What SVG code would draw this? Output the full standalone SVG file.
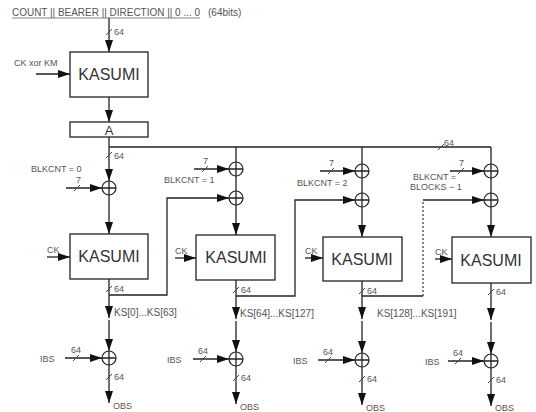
<svg xmlns="http://www.w3.org/2000/svg" width="536" height="412" viewBox="0 0 536 412">
<defs>
<marker id="ah" viewBox="0 0 12 8" refX="12" refY="4" markerWidth="12" markerHeight="8" orient="auto" markerUnits="userSpaceOnUse"><path d="M0,0 L12,4 L0,8 z" fill="#111"/></marker>
<style>
.ln{stroke:#222;stroke-width:1.3;fill:none}
.ar{stroke:#222;stroke-width:1.3;fill:none;marker-end:url(#ah)}
.dash{stroke:#333;stroke-width:1.2;fill:none;stroke-dasharray:2 2}
.box{fill:#fff;stroke:#222;stroke-width:1.3}
.xor{fill:#fff;stroke:#222;stroke-width:1.2}
.k{font-family:"Liberation Sans",Arial,sans-serif;font-size:16px;fill:#333;text-anchor:middle}
.s{font-family:"Liberation Sans",Arial,sans-serif;font-size:9px;fill:#555}
.ks{font-family:"Liberation Sans",Arial,sans-serif;font-size:10px;fill:#555}
.tk{stroke:#444;stroke-width:1}
</style>
</defs>
<text class="ks" x="12" y="16" textLength="188" lengthAdjust="spacingAndGlyphs">COUNT || BEARER || DIRECTION || 0 ... 0</text>
<text class="ks" x="208" y="16">(64bits)</text>
<line x1="12" y1="18" x2="200" y2="18" stroke="#666" stroke-width="0.8"/>

<g id="connectors">
<line class="ar" x1="109" y1="18" x2="109" y2="52"/>
<line class="ar" x1="36" y1="74" x2="70" y2="74"/>
<line class="ar" x1="109" y1="97" x2="109" y2="122"/>
<line class="ln" x1="109" y1="137" x2="109" y2="147"/>
<line class="ln" x1="109" y1="147" x2="491" y2="147"/>
<line class="ar" x1="109" y1="147" x2="109" y2="181"/>
<line class="ar" x1="66" y1="188" x2="102" y2="188"/>
<line class="ar" x1="109" y1="195" x2="109" y2="234"/>
<line class="ln" x1="236" y1="147" x2="236" y2="162"/>
<line class="ar" x1="194" y1="169" x2="229" y2="169"/>
<line class="ln" x1="236" y1="176" x2="236" y2="191"/>
<line class="ar" x1="236" y1="205" x2="236" y2="235"/>
<line class="ln" x1="362" y1="147" x2="362" y2="164"/>
<line class="ar" x1="320" y1="171" x2="355" y2="171"/>
<line class="ln" x1="362" y1="178" x2="362" y2="193"/>
<line class="ar" x1="362" y1="207" x2="362" y2="237"/>
<line class="ln" x1="491" y1="147" x2="491" y2="164"/>
<line class="ar" x1="450" y1="171" x2="484" y2="171"/>
<line class="ln" x1="491" y1="178" x2="491" y2="193"/>
<line class="ar" x1="491" y1="207" x2="491" y2="237"/>
<line class="ar" x1="47" y1="257" x2="70" y2="257"/>
<line class="ar" x1="175" y1="258" x2="196" y2="258"/>
<line class="ar" x1="305" y1="258" x2="323" y2="258"/>
<line class="ar" x1="435" y1="259" x2="452" y2="259"/>
<polyline class="ar" points="109,295 167,295 167,198 229,198"/>
<polyline class="ar" points="236,296 295,296 295,200 355,200"/>
<line class="ln" x1="362" y1="296" x2="423" y2="296"/>
<line class="dash" x1="423" y1="296" x2="423" y2="200"/>
<line class="ar" x1="423" y1="200" x2="484" y2="200"/>
<line class="ar" x1="109" y1="279" x2="109" y2="318"/>
<line class="ar" x1="109" y1="320" x2="109" y2="351"/>
<line class="ar" x1="236" y1="280" x2="236" y2="319"/>
<line class="ar" x1="236" y1="321" x2="236" y2="352"/>
<line class="ar" x1="362" y1="281" x2="362" y2="319"/>
<line class="ar" x1="362" y1="321" x2="362" y2="353"/>
<line class="ar" x1="491" y1="283" x2="491" y2="320"/>
<line class="ar" x1="491" y1="322" x2="491" y2="354"/>
<line class="ar" x1="65" y1="358" x2="102" y2="358"/>
<line class="ar" x1="193" y1="359" x2="229" y2="359"/>
<line class="ar" x1="318" y1="360" x2="355" y2="360"/>
<line class="ar" x1="448" y1="361" x2="484" y2="361"/>
<line class="ar" x1="109" y1="365" x2="109" y2="403"/>
<line class="ar" x1="236" y1="366" x2="236" y2="404"/>
<line class="ar" x1="362" y1="367" x2="362" y2="405"/>
<line class="ar" x1="491" y1="368" x2="491" y2="406"/>
<g class="tk">
<line x1="106" y1="35" x2="112" y2="29"/>
<line x1="106" y1="158" x2="112" y2="152"/>
<line x1="438" y1="150" x2="444" y2="144"/>
<line x1="74" y1="191" x2="80" y2="185"/>
<line x1="202" y1="172" x2="208" y2="166"/>
<line x1="328" y1="174" x2="334" y2="168"/>
<line x1="458" y1="174" x2="464" y2="168"/>
<line x1="106" y1="292" x2="112" y2="286"/>
<line x1="233" y1="293" x2="239" y2="287"/>
<line x1="359" y1="294" x2="365" y2="288"/>
<line x1="488" y1="295" x2="494" y2="289"/>
<line x1="73" y1="361" x2="79" y2="355"/>
<line x1="200" y1="362" x2="206" y2="356"/>
<line x1="325" y1="363" x2="331" y2="357"/>
<line x1="455" y1="364" x2="461" y2="358"/>
<line x1="106" y1="380" x2="112" y2="374"/>
<line x1="233" y1="381" x2="239" y2="375"/>
<line x1="359" y1="382" x2="365" y2="376"/>
<line x1="488" y1="383" x2="494" y2="377"/>
</g>
</g>

<g id="kasumi0"><rect class="box" x="70" y="52" width="78" height="45"/><text class="k" x="109" y="80">KASUMI</text></g>
<text class="s" x="14" y="66">CK xor KM</text>
<text class="s" x="114" y="35">64</text>
<g id="blockA"><rect class="box" x="70" y="122" width="78" height="15"/><text class="k" x="109" y="135" style="font-size:13px">A</text></g>
<text class="s" x="114" y="159">64</text>
<text class="s" x="444" y="146">64</text>

<g id="col1">
<text class="s" x="31" y="172">BLKCNT = 0</text>
<text class="s" x="76" y="183">7</text>
<g id="xor1a"><circle class="xor" cx="109" cy="188" r="7"/><path class="ln" d="M102,188 H116 M109,181 V195"/></g>
<text class="s" x="47" y="253">CK</text>
<g id="kasumi1"><rect class="box" x="70" y="234" width="78" height="45"/><text class="k" x="109" y="262">KASUMI</text></g>
<text class="s" x="114" y="292">64</text>
<text class="ks" x="114" y="316">KS[0]...KS[63]</text>
<text class="s" x="40" y="362">IBS</text>
<text class="s" x="71" y="353">64</text>
<g id="xor1b"><circle class="xor" cx="109" cy="358" r="7"/><path class="ln" d="M102,358 H116 M109,351 V365"/></g>
<text class="s" x="114" y="380">64</text>
<text class="s" x="113" y="409">OBS</text>
</g>

<g id="col2">
<text class="s" x="164" y="183">BLKCNT = 1</text>
<text class="s" x="203" y="164">7</text>
<g id="xor2a"><circle class="xor" cx="236" cy="169" r="7"/><path class="ln" d="M229,169 H243 M236,162 V176"/></g>
<g id="xor2b"><circle class="xor" cx="236" cy="198" r="7"/><path class="ln" d="M229,198 H243 M236,191 V205"/></g>
<text class="s" x="175" y="254">CK</text>
<g id="kasumi2"><rect class="box" x="196" y="235" width="79" height="45"/><text class="k" x="236" y="263">KASUMI</text></g>
<text class="s" x="241" y="293">64</text>
<text class="ks" x="240" y="317">KS[64]...KS[127]</text>
<text class="s" x="167" y="363">IBS</text>
<text class="s" x="198" y="354">64</text>
<g id="xor2c"><circle class="xor" cx="236" cy="359" r="7"/><path class="ln" d="M229,359 H243 M236,352 V366"/></g>
<text class="s" x="241" y="381">64</text>
<text class="s" x="240" y="410">OBS</text>
</g>

<g id="col3">
<text class="s" x="297" y="186">BLKCNT = 2</text>
<text class="s" x="329" y="166">7</text>
<g id="xor3a"><circle class="xor" cx="362" cy="171" r="7"/><path class="ln" d="M355,171 H369 M362,164 V178"/></g>
<g id="xor3b"><circle class="xor" cx="362" cy="200" r="7"/><path class="ln" d="M355,200 H369 M362,193 V207"/></g>
<text class="s" x="305" y="254">CK</text>
<g id="kasumi3"><rect class="box" x="323" y="237" width="79" height="44"/><text class="k" x="362" y="265">KASUMI</text></g>
<text class="s" x="367" y="294">64</text>
<text class="ks" x="377" y="317">KS[128]...KS[191]</text>
<text class="s" x="293" y="364">IBS</text>
<text class="s" x="323" y="355">64</text>
<g id="xor3c"><circle class="xor" cx="362" cy="360" r="7"/><path class="ln" d="M355,360 H369 M362,353 V367"/></g>
<text class="s" x="367" y="382">64</text>
<text class="s" x="366" y="411">OBS</text>
</g>

<g id="col4">
<text class="s" x="413" y="180">BLKCNT =</text>
<text class="s" x="410" y="190">BLOCKS − 1</text>
<text class="s" x="459" y="166">7</text>
<g id="xor4a"><circle class="xor" cx="491" cy="171" r="7"/><path class="ln" d="M484,171 H498 M491,164 V178"/></g>
<g id="xor4b"><circle class="xor" cx="491" cy="200" r="7"/><path class="ln" d="M484,200 H498 M491,193 V207"/></g>
<text class="s" x="435" y="255">CK</text>
<g id="kasumi4"><rect class="box" x="452" y="237" width="79" height="46"/><text class="k" x="491" y="266">KASUMI</text></g>
<text class="s" x="496" y="295">64</text>
<text class="s" x="425" y="365">IBS</text>
<text class="s" x="453" y="356">64</text>
<g id="xor4c"><circle class="xor" cx="491" cy="361" r="7"/><path class="ln" d="M484,361 H498 M491,354 V368"/></g>
<text class="s" x="496" y="383">64</text>
<text class="s" x="495" y="411">OBS</text>
</g>
</svg>
